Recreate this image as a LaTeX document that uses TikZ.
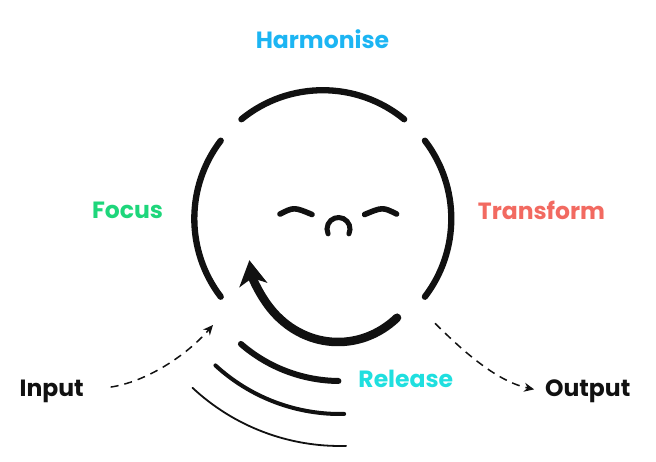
\documentclass[tikz,border=0pt]{standalone}
\usepackage{fontspec}
\setmainfont{Poppins}
\usetikzlibrary{arrows.meta}
\usetikzlibrary{positioning}
\usetikzlibrary{calc}

\definecolor{harmblue}{HTML}{1CB5F3}
\definecolor{focusgreen}{HTML}{1ED67B}
\definecolor{transred}{HTML}{F26A61}
\definecolor{releasecyan}{HTML}{1FDFDF}
\definecolor{ink}{HTML}{111111}

\begin{document}
\begin{tikzpicture}[x=1pt, y=1pt,
  ring/.style={line width=6.3pt, line cap=round, ink},
  face/.style={line width=5.6pt, line cap=round, ink},
  word/.style={font=\bfseries\fontsize{23.5}{28}\selectfont, anchor=base, inner sep=1pt},
  flow/.style={dash pattern=on 8pt off 6pt, line width=1.5pt, ink, -{Stealth[length=10pt,width=9pt]}}]

 \useasboundingbox (0,0) rectangle (656,-461);

 \coordinate (c) at (322.8,-218.7);

 % ring
 \foreach \a/\b in { 50.7/129.3, 142.6/217.4, -37.4/37.4 } {
   \draw[ring] (c) ++(\a:128.5) arc[start angle=\a, end angle=\b, radius=128.5];
 }

 % turning arrow
 \draw[ring, line width=8.5pt, -{Stealth[length=25pt,width=28pt,inset=7pt]}]
   (338,-243) ++(-49:90 and 99) arc[start angle=-49, end angle=-170, x radius=90, y radius=99];

 % face
 \draw[face] (280,-214) .. controls (294,-207) .. (312,-214.5);
 \draw[face] (364.6,-214.5) .. controls (382.6,-207) .. (396.6,-214);
 \draw[face, line width=5pt] (338.5,-229) ++(-25:11.5) arc[start angle=-25, end angle=205, radius=11.5];

 % waves
 \foreach \r/\w/\a/\b in { 151/6/-131/-90.6, 184/4/-132.6/-88.7, 216/1.8/-133.1/-88.4 } {
   \draw[ink, line width=\w pt, line cap=round] (340,-230) ++(\a:\r) arc[start angle=\a, end angle=\b, radius=\r];
 }

 % labels
 \node[word, harmblue] (harm) at (322.5,-48.5) {Harmonise};
 \node[word, focusgreen] (focus) at (127.5,-218.3) {Focus};
 \node[word, transred] (trans) at (541.5,-219) {Transform};
 \node[word, releasecyan] (release) at (405.8,-387.3) {Release};
 \node[word, ink] (input) at (51.7,-396) {Input};
 \node[word, ink] (output) at (587.7,-396.7) {Output};

 % lines
 \coordinate (inend) at (213,-325);
 \coordinate (outstart) at (435,-323.3);
 \draw[flow, shorten <=26pt] (input.east) .. controls (145,-382) and (185,-357) .. (inend);
 \draw[flow, shorten >=10pt] (outstart) .. controls (460,-348) and (495,-381) .. (output.west);

\end{tikzpicture}
\end{document}
